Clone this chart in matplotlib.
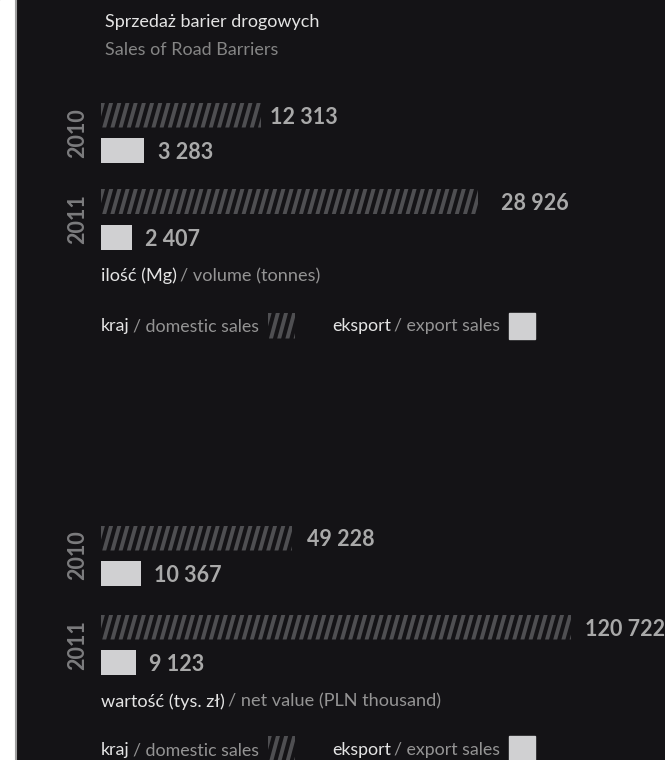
import matplotlib.pyplot as plt
from matplotlib.patches import Rectangle, Polygon
from matplotlib.collections import PatchCollection

plt.rcParams['font.family'] = ['Lato', 'DejaVu Sans']

# sales of road barriers, domestic vs export
years = ['2010', '2011']
volume_domestic = [12313, 28926]   # Mg
volume_export = [3283, 2407]
value_domestic = [49228, 120722]   # PLN thousand
value_export = [10367, 9123]

BG = '#141316'
STRIPE = '#4f4f52'
EXPORT = '#d0d0d2'
VALUE_TXT = '#a9a9a9'
YEAR_TXT = '#7c7c7e'
LIGHT = '#e4e4e4'
GREY = '#949494'

W, H = 665, 760
fig = plt.figure(figsize=(W / 100, H / 100), dpi=100, facecolor=BG)

# pixel overlay for text and decorations
ov = fig.add_axes([0, 0, 1, 1])
ov.set_xlim(0, W)
ov.set_ylim(H, 0)
ov.axis('off')
ov.add_patch(Rectangle((0, 0), 15, H, color='white', zorder=5))
ov.plot([15.5, 15.5], [0, H], color='#a0a0a0', lw=1.5, zorder=6)

renderer = fig.canvas.get_renderer()

BAR_LEFT = 101
BAR_H = 25
TXT = 12.8


def fmt(v):
    return f'{v:,}'.replace(',', ' ')


def stripes(x0, x1, ytop, ybot, clip, period=8.2, width=4.0, lean=7.0):
    polys = []
    x = x0 - lean - period
    while x < x1 + period:
        polys.append(Polygon([(x, ybot), (x + width, ybot),
                              (x + width + lean, ytop), (x + lean, ytop)]))
        x += period
    pc = PatchCollection(polys, facecolor=STRIPE, edgecolor='none', zorder=3)
    ov.add_collection(pc)
    pc.set_clip_path(clip)


def px_extent(patch):
    bb = patch.get_window_extent(renderer)
    (ax0, ay0), (ax1, ay1) = ov.transData.inverted().transform(
        [(bb.x0, bb.y0), (bb.x1, bb.y1)])
    return ax0, ax1, min(ay0, ay1), max(ay0, ay1)


def two_tone(x, y, head, rest, size=TXT):
    t = ov.text(x, y, head, color=LIGHT, fontsize=size, va='baseline')
    w = t.get_window_extent(renderer).width
    t2 = ov.text(x + w + 3, y, '/ ' + rest, color=GREY, fontsize=size,
                 va='baseline')
    return x + w + 3 + t2.get_window_extent(renderer).width


def section(domestic, export, scale, rows, pads, caption, cap_y, leg_y):
    ax = fig.add_axes([BAR_LEFT / W, 0, (W - BAR_LEFT) / W, 1])
    ax.set_xlim(0, (W - BAR_LEFT) / scale)
    ax.set_ylim(H, 0)
    ax.axis('off')
    ax.patch.set_alpha(0)
    for i, yr in enumerate(years):
        yd, ye = rows[i]
        dom = ax.barh(yd, domestic[i], height=BAR_H, left=0,
                      facecolor='none', edgecolor='none', zorder=2)[0]
        x0, x1, ytop, ybot = px_extent(dom)
        stripes(x0, x1, ytop, ybot, dom)
        ax.barh(ye, export[i], height=BAR_H, left=0, color=EXPORT, zorder=2)
        ax.annotate(fmt(domestic[i]), (domestic[i], yd), xytext=(pads[i][0], 0),
                    textcoords='offset pixels', va='center_baseline',
                    color=VALUE_TXT, fontsize=15.5, fontweight='bold')
        ax.annotate(fmt(export[i]), (export[i], ye), xytext=(pads[i][1], 0),
                    textcoords='offset pixels', va='center_baseline',
                    color=VALUE_TXT, fontsize=15.5, fontweight='bold')
        ov.text(78, (yd + ye) / 2, yr, rotation=90, ha='center', va='center',
                color=YEAR_TXT, fontsize=15.5, fontweight='bold')

    head, rest = caption
    two_tone(BAR_LEFT, cap_y, head, rest, size=13.1)

    # legend
    end = two_tone(BAR_LEFT, leg_y, 'kraj', 'domestic sales')
    sw = Rectangle((end + 9, leg_y - 19), 27, 26, facecolor='none',
                   edgecolor='none')
    ov.add_patch(sw)
    stripes(end + 9, end + 36, leg_y - 19, leg_y + 7, sw)
    end = two_tone(332, leg_y, 'eksport', 'export sales')
    ov.add_patch(Rectangle((end + 9, leg_y - 19), 26, 26, color=EXPORT))


ov.text(105, 26.5, 'Sprzedaż barier drogowych', color=LIGHT, fontsize=13,
        va='baseline')
ov.text(105, 55, 'Sales of Road Barriers', color='#858585', fontsize=13,
        va='baseline')

section(volume_domestic, volume_export, 0.01303,
        rows=[(115, 150.5), (201.5, 237)], pads=[(9, 14), (23, 13)],
        caption=('ilość (Mg)', 'volume (tonnes)'), cap_y=281.5, leg_y=331.5)

section(value_domestic, value_export, 0.00389,
        rows=[(538, 573), (627, 662.5)], pads=[(15, 13), (14, 13)],
        caption=('wartość (tys. zł)', 'net value (PLN thousand)'),
        cap_y=706.5, leg_y=755)

fig.savefig('out.png', dpi=100, facecolor=BG)
